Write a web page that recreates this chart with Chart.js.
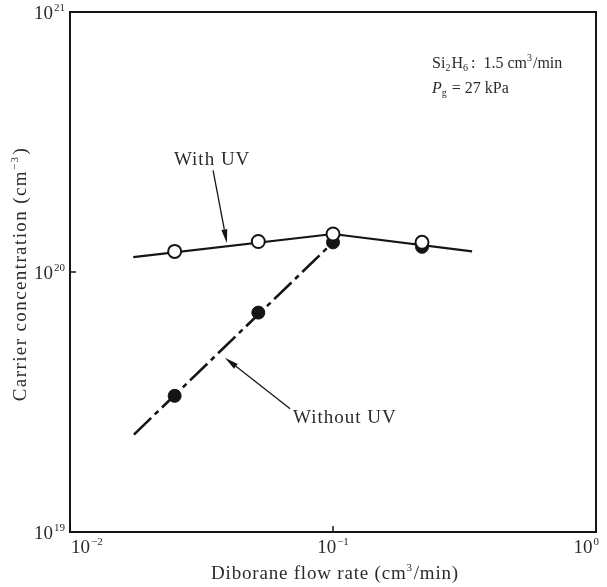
<!DOCTYPE html>
<html>
<head>
<meta charset="utf-8">
<script src="https://cdn.jsdelivr.net/npm/chart.js@4.4.1/dist/chart.umd.min.js"></script>
<style>
  html, body { margin: 0; padding: 0; background: #ffffff; }
  #wrap { width: 607px; height: 587px; }
</style>
</head>
<body>
<div id="wrap"><canvas id="c" width="607" height="587"></canvas></div>
<script>
// ---- Data ----
const flowRate = [0.025, 0.052, 0.1, 0.218];           // Diborane flow rate (cm3/min)
const withUV = [1.20e20, 1.31e20, 1.40e20, 1.30e20];   // open circles
const withoutUV = [3.34e19, 6.98e19, 1.30e20, 1.25e20];// filled circles
const withUVFitX = [0.0174, 0.1, 0.338];
const withUVFitY = [1.14e20, 1.40e20, 1.20e20];
const withoutUVFitX = [0.0175, 0.1];
const withoutUVFitY = [2.37e19, 1.30e20];
const xTickValues = [0.01, 0.1, 1];
const xTickExp = ['\u22122', '\u22121', '0'];
const yTickValues = [1e19, 1e20, 1e21];
const yTickExp = ['19', '20', '21'];

const INK = '#151515';
const TXT = '#2b2b2b';
const SERIF = '"Liberation Serif", "DejaVu Serif", serif';

function pts(xs, ys) { return xs.map((x, i) => ({ x: x, y: ys[i] })); }

function drawPow(ctx, exp, x, y, align) {
  ctx.save();
  ctx.fillStyle = TXT;
  ctx.textBaseline = 'alphabetic';
  ctx.textAlign = 'left';
  ctx.font = '19px ' + SERIF;
  const wb = ctx.measureText('10').width;
  ctx.font = '11px ' + SERIF;
  const we = ctx.measureText(exp).width;
  const w = wb + 1 + we;
  let x0 = x;
  if (align === 'right') x0 = x - w;
  else if (align === 'center') x0 = x - w / 2;
  ctx.font = '19px ' + SERIF;
  ctx.fillText('10', x0, y);
  ctx.font = '11px ' + SERIF;
  ctx.fillText(exp, x0 + wb + 1, y - 8);
  ctx.restore();
}

function arrow(ctx, x1, y1, x2, y2) {
  ctx.save();
  ctx.strokeStyle = INK;
  ctx.fillStyle = INK;
  ctx.lineWidth = 1.3;
  const a = Math.atan2(y2 - y1, x2 - x1);
  const L = 14, W = 3;
  const bx = x2 - L * Math.cos(a), by = y2 - L * Math.sin(a);
  ctx.beginPath(); ctx.moveTo(x1, y1); ctx.lineTo(bx, by); ctx.stroke();
  ctx.beginPath();
  ctx.moveTo(x2, y2);
  ctx.lineTo(bx + W * Math.sin(a), by - W * Math.cos(a));
  ctx.lineTo(bx - W * Math.sin(a), by + W * Math.cos(a));
  ctx.closePath(); ctx.fill();
  ctx.restore();
}

const decor = {
  id: 'decor',
  afterDraw(chart) {
    const ctx = chart.ctx;
    const a = chart.chartArea;
    const xs = chart.scales.x, ys = chart.scales.y;
    // frame
    ctx.save();
    ctx.strokeStyle = INK;
    ctx.lineWidth = 2;
    ctx.strokeRect(a.left, a.top, a.right - a.left, a.bottom - a.top);
    // inner ticks
    ctx.lineWidth = 1.5;
    const px = xs.getPixelForValue(0.1);
    ctx.beginPath(); ctx.moveTo(px, a.bottom); ctx.lineTo(px, a.bottom - 6); ctx.stroke();
    const py = ys.getPixelForValue(1e20);
    ctx.beginPath(); ctx.moveTo(a.left, py); ctx.lineTo(a.left + 6, py); ctx.stroke();
    ctx.restore();

    // tick labels
    xTickValues.forEach((v, i) => {
      const p = xs.getPixelForValue(v);
      let align = 'center', xx = p;
      if (i === 0) { align = 'left'; xx = p + 1; }
      if (i === xTickValues.length - 1) { align = 'right'; xx = p + 3; }
      drawPow(ctx, xTickExp[i], xx, a.bottom + 21, align);
    });
    yTickValues.forEach((v, i) => {
      const p = ys.getPixelForValue(v);
      drawPow(ctx, yTickExp[i], a.left - 5, p + 7, 'right');
    });

    ctx.save();
    ctx.fillStyle = TXT;
    ctx.font = '19px ' + SERIF;
    ctx.letterSpacing = '0.8px';
    // x title
    ctx.textAlign = 'left';
    ctx.textBaseline = 'alphabetic';
    const t1 = 'Diborane flow rate (cm', t2 = '/min)';
    const w1 = ctx.measureText(t1).width, w2 = ctx.measureText(t2).width;
    ctx.font = '11px ' + SERIF; const w3 = ctx.measureText('3').width;
    const tot = w1 + w3 + 1 + w2;
    let sx = (a.left + a.right) / 2 - tot / 2 + 2;
    const by = 579;
    ctx.font = '19px ' + SERIF; ctx.fillText(t1, sx, by);
    ctx.font = '11px ' + SERIF; ctx.fillText('3', sx + w1, by - 8);
    ctx.font = '19px ' + SERIF; ctx.fillText(t2, sx + w1 + w3 + 1, by);

    // y title (rotated)
    ctx.save();
    ctx.letterSpacing = '1.4px';
    ctx.translate(26, (a.top + a.bottom) / 2);
    ctx.rotate(-Math.PI / 2);
    const u1 = 'Carrier concentration (cm', u2 = ')';
    ctx.font = '19px ' + SERIF;
    const v1 = ctx.measureText(u1).width, v2 = ctx.measureText(u2).width;
    ctx.font = '11px ' + SERIF; const v3 = ctx.measureText('\u22123').width;
    const tot2 = v1 + v3 + 1 + v2;
    let sy = -tot2 / 2 - 2;
    ctx.font = '19px ' + SERIF; ctx.fillText(u1, sy, 0);
    ctx.font = '11px ' + SERIF; ctx.fillText('\u22123', sy + v1, -8);
    ctx.font = '19px ' + SERIF; ctx.fillText(u2, sy + v1 + v3 + 1, 0);
    ctx.restore();

    // series labels
    ctx.letterSpacing = '1px';
    ctx.font = '19px ' + SERIF;
    ctx.textBaseline = 'alphabetic';
    ctx.textAlign = 'center';
    ctx.fillText('With UV', xs.getPixelForValue(0.0347), ys.getPixelForValue(2.74e20) + 7);
    ctx.textAlign = 'left';
    ctx.fillText('Without UV', xs.getPixelForValue(0.0705), ys.getPixelForValue(2.80e19) + 7);

    // condition text
    ctx.letterSpacing = '0px';
    let tx = xs.getPixelForValue(0.238);
    let ty = ys.getPixelForValue(6.08e20);
    ctx.font = '16px ' + SERIF;
    let cx = tx;
    ctx.fillText('Si', cx, ty); cx += ctx.measureText('Si').width;
    ctx.font = '10px ' + SERIF; ctx.fillText('2', cx, ty + 3); cx += ctx.measureText('2').width + 1;
    ctx.font = '16px ' + SERIF; ctx.fillText('H', cx, ty); cx += ctx.measureText('H').width;
    ctx.font = '10px ' + SERIF; ctx.fillText('6', cx, ty + 3); cx += ctx.measureText('6').width + 1;
    ctx.font = '16px ' + SERIF; ctx.fillText(':  1.5 cm', cx + 2, ty); cx += 2 + ctx.measureText(':  1.5 cm').width;
    ctx.font = '10px ' + SERIF; ctx.fillText('3', cx, ty - 7); cx += ctx.measureText('3').width + 1;
    ctx.font = '16px ' + SERIF; ctx.fillText('/min', cx, ty);

    ty = ys.getPixelForValue(4.88e20);
    cx = tx;
    ctx.font = 'italic 16px ' + SERIF; ctx.fillText('P', cx, ty); cx += ctx.measureText('P').width;
    ctx.font = '10px ' + SERIF; ctx.fillText('g', cx, ty + 3); cx += ctx.measureText('g').width + 1;
    ctx.font = '16px ' + SERIF; ctx.fillText(' = 27 kPa', cx, ty);
    ctx.restore();

    // arrows
    arrow(ctx, xs.getPixelForValue(0.0350), ys.getPixelForValue(2.46e20),
               xs.getPixelForValue(0.0395), ys.getPixelForValue(1.29e20));
    arrow(ctx, xs.getPixelForValue(0.0687), ys.getPixelForValue(2.98e19),
               xs.getPixelForValue(0.0388), ys.getPixelForValue(4.68e19));
  }
};

new Chart(document.getElementById('c'), {
  type: 'scatter',
  data: {
    datasets: [
      {
        label: 'With UV',
        data: pts(flowRate, withUV),
        showLine: false,
        pointRadius: 6.5,
        pointBorderWidth: 2,
        pointBorderColor: INK,
        pointBackgroundColor: '#ffffff',
        order: 0
      },
      {
        label: 'Without UV',
        data: pts(flowRate, withoutUV),
        showLine: false,
        pointRadius: 6.5,
        pointBorderWidth: 1,
        pointBorderColor: INK,
        pointBackgroundColor: INK,
        order: 1
      },
      {
        label: 'With UV fit',
        data: pts(withUVFitX, withUVFitY),
        showLine: true,
        pointRadius: 0,
        borderColor: INK,
        borderWidth: 2.2,
        order: 2
      },
      {
        label: 'Without UV fit',
        data: pts(withoutUVFitX, withoutUVFitY),
        showLine: true,
        pointRadius: 0,
        borderColor: INK,
        borderWidth: 2.6,
        borderDash: [24, 5, 5, 5],
        order: 3
      }
    ]
  },
  options: {
    responsive: false,
    animation: false,
    events: [],
    layout: { padding: { left: 70, right: 11, top: 12, bottom: 55 } },
    plugins: { legend: { display: false }, tooltip: { enabled: false } },
    scales: {
      x: {
        type: 'logarithmic',
        min: 0.01, max: 1,
        grid: { display: false, drawTicks: false },
        border: { display: false },
        ticks: { display: false },
        afterFit(s) { s.height = 0; }
      },
      y: {
        type: 'logarithmic',
        min: 1e19, max: 1e21,
        grid: { display: false, drawTicks: false },
        border: { display: false },
        ticks: { display: false },
        afterFit(s) { s.width = 0; }
      }
    }
  },
  plugins: [decor]
});
</script>
</body>
</html>
